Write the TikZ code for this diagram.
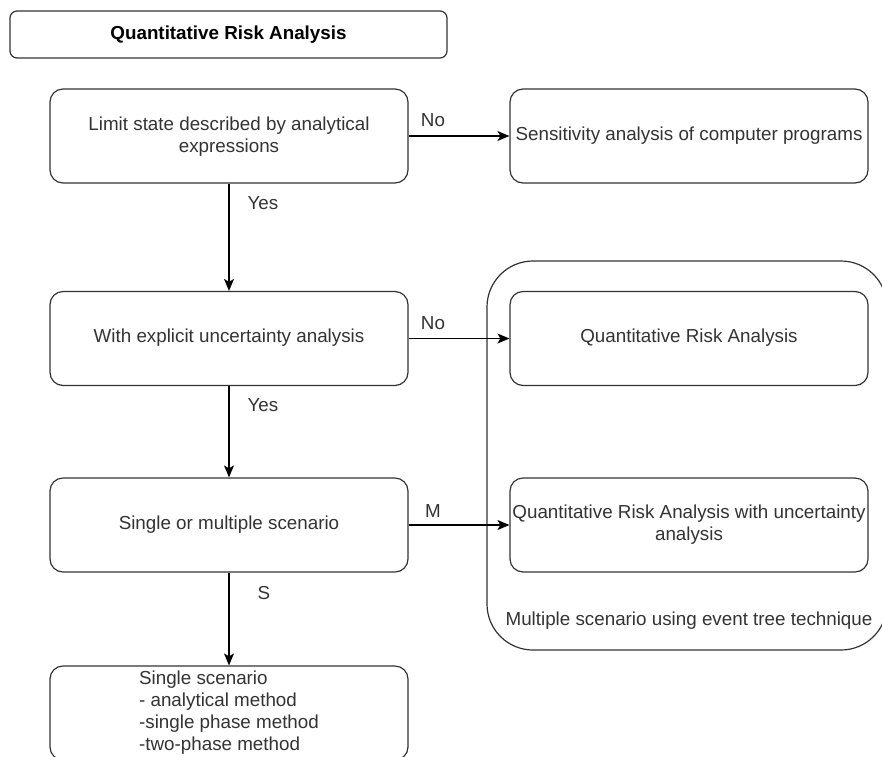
\documentclass[tikz,border=0pt]{standalone}
\usepackage{fontspec}
\setmainfont{Liberation Sans}
\usetikzlibrary{arrows.meta}
\definecolor{ln}{HTML}{333333}
\definecolor{tx}{HTML}{333333}
\tikzset{
  box/.style={draw=ln, line width=1.2pt, rounded corners=13pt, minimum width=358pt, minimum height=94pt, align=center, text=tx, inner sep=0pt, font=\fontsize{18.8}{22}\selectfont},
  titlebox/.style={draw=ln, line width=1.2pt, rounded corners=7pt, minimum width=437pt, minimum height=47pt, inner sep=0pt, font=\fontsize{18.8}{22}\selectfont\bfseries, text=black},
  lbl/.style={text=tx, inner sep=0pt, font=\fontsize{18.8}{22}\selectfont},
  arr/.style={draw=black, line width=1.2pt, -{Stealth[length=12pt,width=10pt,inset=3pt]}}
}
\begin{document}
\begin{tikzpicture}[x=1pt,y=-1pt]
\useasboundingbox (0,0) rectangle (882,756);
\clip (0,0) rectangle (882,756);
\fill[white] (0,0) rectangle (882,756);
% container
\draw[ln, line width=1.2pt, rounded corners=46pt] (487,261) rectangle (887,650);
\node[lbl] (cont) at (689,621) {Multiple scenario using event tree technique};
% title
\node[titlebox] (title) at (228.5,34.5) {Quantitative Risk Analysis};
% left column
\node[box] (b1) at (229,136) {\strut Limit state described by analytical\\expressions};
\node[box] (b2) at (229,338.5) {\strut With explicit uncertainty analysis};
\node[box] (b3) at (229,525) {\strut Single or multiple scenario};
\node[box, align=left] (b4) at (229,713) {\strut Single scenario\\- analytical method\\-single phase method\\-two-phase method\strut};
% right column
\node[box] (r1) at (689,136) {\strut Sensitivity analysis of computer programs};
\node[box] (r2) at (689,338.5) {\strut Quantitative Risk Analysis};
\node[box] (r3) at (689,525) {\strut Quantitative Risk Analysis with uncertainty\\analysis\strut};
% connectors
\draw[arr] (b1.east) -- (r1.west);
\draw[arr] (b2.east) -- (r2.west);
\draw[arr] (b3.east) -- (r3.west);
\draw[arr] (b1.south) -- (b2.north);
\draw[arr] (b2.south) -- (b3.north);
\draw[arr] (b3.south) -- (b4.north);
% labels
\node[lbl] (l1) at (433,120) {No};
\node[lbl] (l2) at (433,323) {No};
\node[lbl] (l3) at (433,511) {M};
\node[lbl] (l4) at (263,203) {Yes};
\node[lbl] (l5) at (263,405) {Yes};
\node[lbl] (l6) at (264,593) {S};
\end{tikzpicture}
\end{document}
